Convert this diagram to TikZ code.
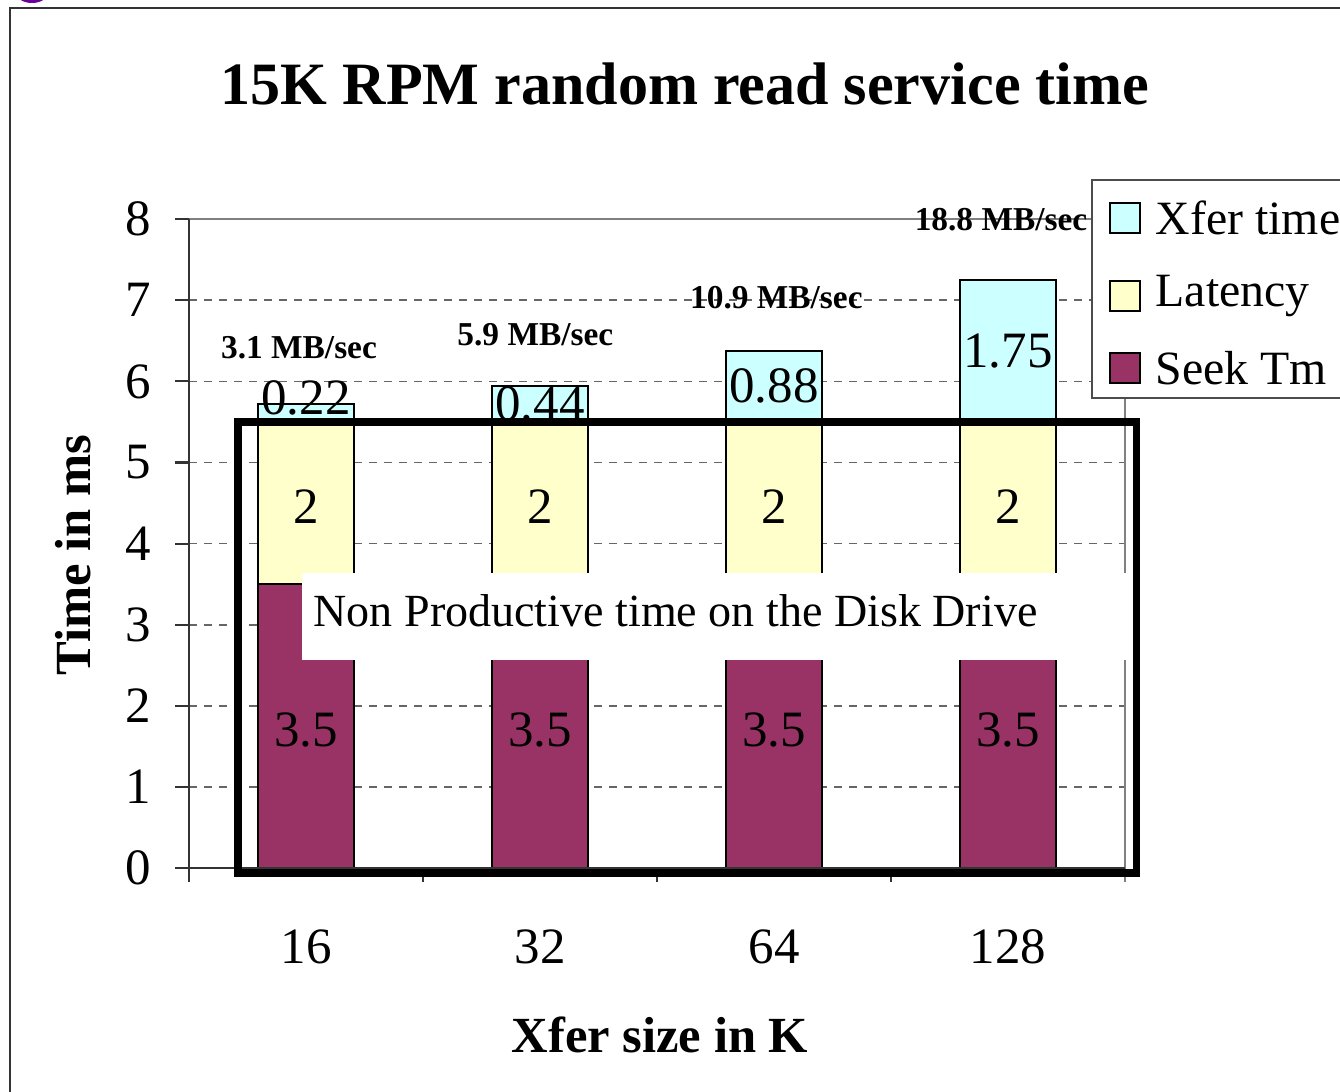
\documentclass[tikz,border=0pt]{standalone}
\usepackage{fontspec}
\setmainfont{Liberation Serif}
\usepackage{tikz}
\usetikzlibrary{positioning, calc}

\definecolor{seekcol}{HTML}{993366}
\definecolor{latcol}{HTML}{FFFFCC}
\definecolor{xfercol}{HTML}{CCFFFF}

\begin{document}
\begin{tikzpicture}[
  seg/.style={draw=black, line width=0.6pt},
  gridline/.style={black!60, line width=0.5pt, dash pattern=on 0.8mm off 0.7mm},
  val/.style={font=\fontsize{14.5}{16}\selectfont, inner sep=0pt},
  ticklabel/.style={font=\fontsize{14.5}{16}\selectfont, inner sep=0pt},
  rate/.style={font=\bfseries\fontsize{9.5}{10}\selectfont, inner sep=0pt},
  axistitle/.style={font=\bfseries\fontsize{14.4}{16}\selectfont, inner sep=0pt},
  swatch/.style={draw=black, line width=0.8pt, minimum size=0.3cm, inner sep=0pt},
  legtext/.style={font=\fontsize{13.6}{15}\selectfont, anchor=west, inner sep=0pt},
]
\clip (0,0) rectangle (13.4,10.91);
\useasboundingbox (0,0) rectangle (13.4,10.91);

% Slide frame
\fill[violet!80!blue] (0.32,10.97) ellipse (0.15 and 0.09);
\draw[black!80, line width=0.6pt] (0.10,-0.5) -- (0.10,10.83) -- (14,10.83);

% Title
\node[font=\bfseries\fontsize{17.1}{19}\selectfont] (title) at (6.85,10.07) {15K RPM random read service time};

\begin{scope}[shift={(1.89,2.23)}, x=2.34cm, y=0.811cm]
% Grid
\foreach \y in {1,...,7}
   \draw[gridline] (0,\y) -- (4,\y);
\draw[black!50, line width=0.6pt] (-0.14cm,8) -- (4,8) -- (4,0) -- ++(0,-0.14cm);

% Bars: seek, latency, xfer
\foreach \c/\xf/\ly [count=\i] in {0.5/0.22/5.8, 1.5/0.44/5.72, 2.5/0.88/5.94, 3.5/1.75/6.375} {
   \draw[seg, fill=seekcol] (\c-0.205,0) rectangle (\c+0.205,3.5);
   \draw[seg, fill=latcol] (\c-0.205,3.5) rectangle (\c+0.205,5.5);
   \draw[seg, fill=xfercol] (\c-0.205,5.5) rectangle (\c+0.205,5.5+\xf);
   \node[val] (seek\i) at (\c,1.7) {3.5};
   \node[val] (lat\i) at (\c,4.45) {2};
   \node[val] (xfer\i) at (\c,\ly) {\xf};
}

% Axes
\draw[black!80, line width=0.6pt] (0,8) -- (0,0) -- ++(0,-0.14cm);
\draw[black!80, line width=0.6pt] (-0.14cm,0) -- (4,0);
\foreach \y in {0,...,8} {
   \draw[black!80, line width=0.6pt] (0,\y) -- ++(-0.14cm,0);
   \node[ticklabel, left=0.37cm] (ytick\y) at (0,\y) {\y};
}
\foreach \x in {1,2,3}
   \draw[black!80, line width=0.6pt] (\x,0) -- ++(0,-0.14cm);
\foreach \c/\size [count=\i] in {0.5/16, 1.5/32, 2.5/64, 3.5/128}
   \node[ticklabel, yshift=-0.79cm] (cat\i) at (\c,0) {\size};

% Throughput labels
\node[rate] (rate1) at (0.47,6.41) {3.1 MB/sec};
\node[rate] (rate2) at (1.48,6.58) {5.9 MB/sec};
\node[rate] (rate3) at (2.51,7.03) {10.9 MB/sec};
\node[rate] (rate4) at (3.47,7.99) {18.8 MB/sec};
\end{scope}

% Axis titles
\node[axistitle, rotate=90] (ytitle) at (0.73,5.36) {Time in ms};
\node[axistitle] (xtitle) at (6.60,0.56) {Xfer size in K};

% Non productive region
\draw[line width=2pt] (2.38,2.18) rectangle (11.36,6.69);
\node[fill=white, minimum width=8.26cm, minimum height=0.87cm] (nonprodbox) at (7.15,4.745) {};
\node[anchor=west, inner sep=0pt, font=\fontsize{13.1}{15}\selectfont] (nonprod) at (3.13,4.8) {Non Productive time on the Disk Drive};

% Legend
\draw[black!70, fill=white, line width=0.6pt] (10.92,6.93) rectangle (13.8,9.11);
\node[swatch, fill=xfercol] (keyxfer) at (11.25,8.73) {};
\node[swatch, fill=latcol] (keylat) at (11.25,7.95) {};
\node[swatch, fill=seekcol] (keyseek) at (11.25,7.23) {};
\node[legtext] (legxfer) at (11.55,8.73) {Xfer time};
\node[legtext] (leglat) at (11.55,7.95) {Latency};
\node[legtext] (legseek) at (11.55,7.23) {Seek Tm};
\end{tikzpicture}
\end{document}
